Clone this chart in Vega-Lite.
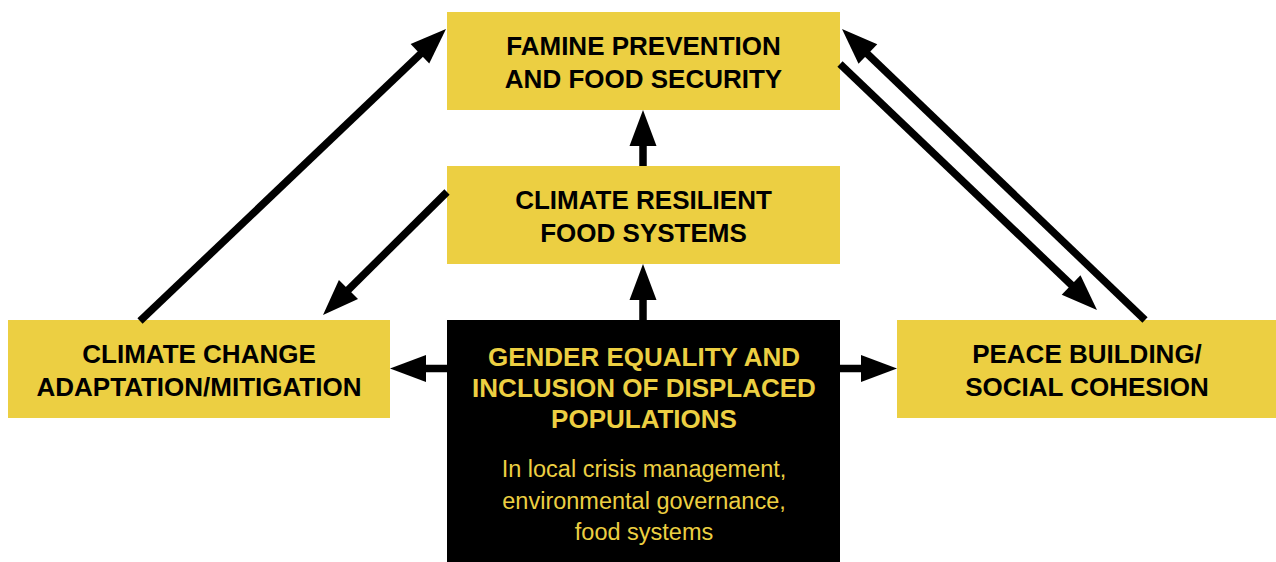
{
  "$schema": "https://vega.github.io/schema/vega-lite/v6.json",
  "autosize": {"type": "fit", "contains": "padding"},
  "width": 1276,
  "height": 562,
  "padding": 0,
  "background": "#ffffff",
  "config": {"view": {"stroke": null}},
  "datasets": {
    "boxes": [
      {"box": "Famine prevention", "kind": "theme", "left": 447, "right": 840, "top": 12, "bottom": 110},
      {"box": "Climate resilient", "kind": "theme", "left": 447, "right": 840, "top": 166, "bottom": 264},
      {"box": "Climate change", "kind": "theme", "left": 8, "right": 390, "top": 320, "bottom": 418},
      {"box": "Gender equality", "kind": "focus", "left": 447, "right": 840, "top": 320, "bottom": 562},
      {"box": "Peace building", "kind": "theme", "left": 897, "right": 1276, "top": 320, "bottom": 418}
    ],
    "arrows": [
      {"from": "Climate change", "to": "Famine prevention", "sx": 140, "sy": 321, "ex": 432, "ey": 43, "tx": 446, "ty": 29, "dir": 46.4},
      {"from": "Climate resilient", "to": "Climate change", "sx": 447, "sy": 192, "ex": 337, "ey": 301, "tx": 323, "ty": 315, "dir": 225},
      {"from": "Gender equality", "to": "Climate resilient", "sx": 643, "sy": 320, "ex": 643, "ey": 284, "tx": 643, "ty": 264, "dir": 0},
      {"from": "Climate resilient", "to": "Famine prevention", "sx": 643, "sy": 166, "ex": 643, "ey": 130, "tx": 643, "ty": 110, "dir": 0},
      {"from": "Gender equality", "to": "Climate change", "sx": 447, "sy": 368.5, "ex": 410, "ey": 368.5, "tx": 390, "ty": 368.5, "dir": 270},
      {"from": "Gender equality", "to": "Peace building", "sx": 840, "sy": 368.5, "ex": 877, "ey": 368.5, "tx": 897, "ty": 368.5, "dir": 90},
      {"from": "Famine prevention", "to": "Peace building", "sx": 840, "sy": 64, "ex": 1083, "ey": 296, "tx": 1097, "ty": 310, "dir": 134},
      {"from": "Peace building", "to": "Famine prevention", "sx": 1145, "sy": 320, "ex": 856, "ey": 43, "tx": 842, "ty": 29, "dir": 314}
    ],
    "labels": [
      {"text": "FAMINE PREVENTION", "style": "title", "tone": "dark", "cx": 643.5, "by": 55},
      {"text": "AND FOOD SECURITY", "style": "title", "tone": "dark", "cx": 643.5, "by": 88},
      {"text": "CLIMATE RESILIENT", "style": "title", "tone": "dark", "cx": 643.5, "by": 209},
      {"text": "FOOD SYSTEMS", "style": "title", "tone": "dark", "cx": 643.5, "by": 242},
      {"text": "CLIMATE CHANGE", "style": "title", "tone": "dark", "cx": 199, "by": 363},
      {"text": "ADAPTATION/MITIGATION", "style": "title", "tone": "dark", "cx": 199, "by": 396},
      {"text": "PEACE BUILDING/", "style": "title", "tone": "dark", "cx": 1087, "by": 363},
      {"text": "SOCIAL COHESION", "style": "title", "tone": "dark", "cx": 1087, "by": 396},
      {"text": "GENDER EQUALITY AND", "style": "title", "tone": "light", "cx": 644, "by": 366},
      {"text": "INCLUSION OF DISPLACED", "style": "title", "tone": "light", "cx": 644, "by": 397},
      {"text": "POPULATIONS", "style": "title", "tone": "light", "cx": 644, "by": 428},
      {"text": "In local crisis management,", "style": "note", "tone": "light", "cx": 644, "by": 477},
      {"text": "environmental governance,", "style": "note", "tone": "light", "cx": 644, "by": 509},
      {"text": "food systems", "style": "note", "tone": "light", "cx": 644, "by": 540}
    ]
  },
  "layer": [
    {
      "data": {"name": "boxes"},
      "mark": {"type": "rect", "strokeWidth": 0},
      "encoding": {
        "x": {"field": "left", "type": "quantitative", "scale": {"domain": [0, 1276], "nice": false, "zero": false}, "axis": null},
        "x2": {"field": "right"},
        "y": {"field": "top", "type": "quantitative", "scale": {"domain": [0, 562], "nice": false, "zero": false, "reverse": true}, "axis": null},
        "y2": {"field": "bottom"},
        "fill": {"field": "kind", "type": "nominal", "scale": {"domain": ["theme", "focus"], "range": ["#ECCF42", "#000000"]}, "legend": null}
      }
    },
    {
      "data": {"name": "arrows"},
      "mark": {"type": "rule", "color": "#000000", "strokeWidth": 7.5, "strokeCap": "butt"},
      "encoding": {
        "x": {"field": "sx", "type": "quantitative"},
        "y": {"field": "sy", "type": "quantitative"},
        "x2": {"field": "ex"},
        "y2": {"field": "ey"}
      }
    },
    {
      "data": {"name": "arrows"},
      "mark": {"type": "point", "shape": "M0,0L0.75,2L-0.75,2Z", "filled": true, "color": "#000000", "opacity": 1, "size": 1296, "strokeWidth": 0},
      "encoding": {
        "x": {"field": "tx", "type": "quantitative"},
        "y": {"field": "ty", "type": "quantitative"},
        "angle": {"field": "dir", "type": "quantitative", "scale": null}
      }
    },
    {
      "data": {"name": "labels"},
      "transform": [{"filter": "datum.style === 'title'"}],
      "mark": {"type": "text", "align": "center", "baseline": "alphabetic", "font": "Liberation Sans", "fontSize": 26, "fontWeight": "bold"},
      "encoding": {
        "x": {"field": "cx", "type": "quantitative"},
        "y": {"field": "by", "type": "quantitative"},
        "text": {"field": "text", "type": "nominal"},
        "color": {"field": "tone", "type": "nominal", "scale": {"domain": ["dark", "light"], "range": ["#000000", "#ECCF42"]}, "legend": null}
      }
    },
    {
      "data": {"name": "labels"},
      "transform": [{"filter": "datum.style === 'note'"}],
      "mark": {"type": "text", "align": "center", "baseline": "alphabetic", "font": "Liberation Sans", "fontSize": 23.5, "fontWeight": "normal"},
      "encoding": {
        "x": {"field": "cx", "type": "quantitative"},
        "y": {"field": "by", "type": "quantitative"},
        "text": {"field": "text", "type": "nominal"},
        "color": {"field": "tone", "type": "nominal", "scale": {"domain": ["dark", "light"], "range": ["#000000", "#ECCF42"]}, "legend": null}
      }
    }
  ]
}
